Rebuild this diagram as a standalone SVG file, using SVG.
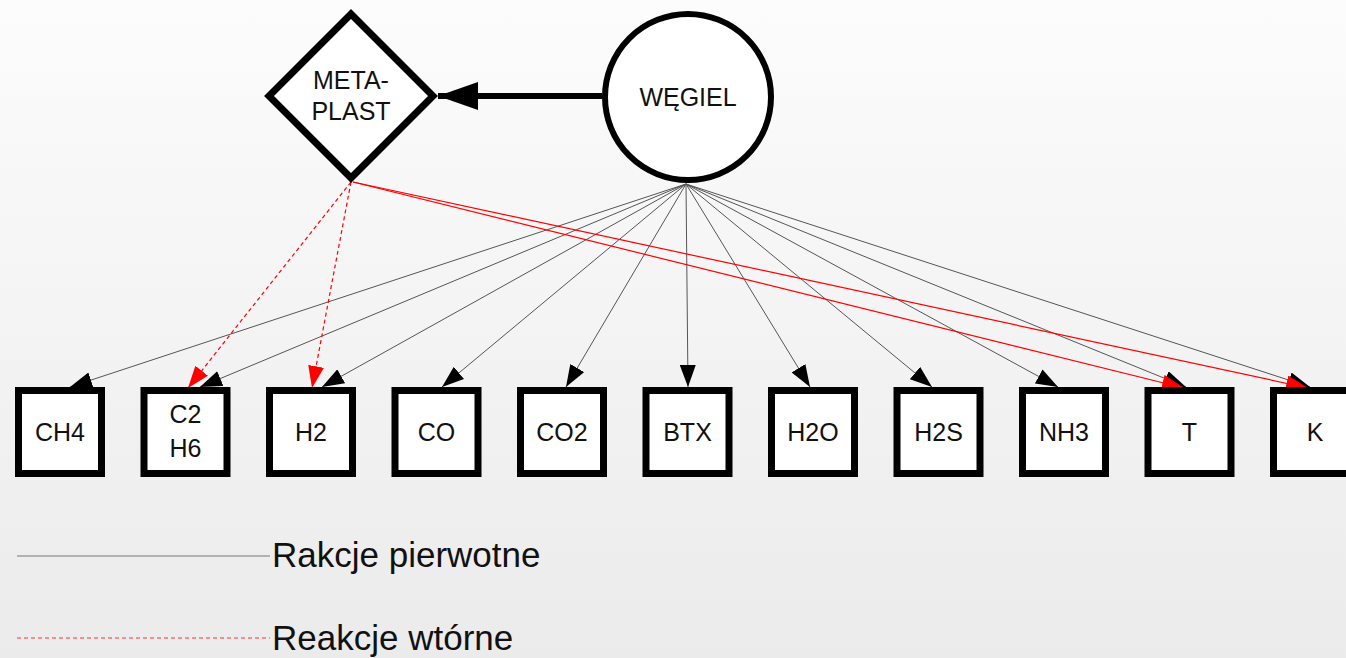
<svg xmlns="http://www.w3.org/2000/svg" width="1346" height="658" viewBox="0 0 1346 658">
  <defs>
    <linearGradient id="bg" x1="0" y1="0" x2="0" y2="1">
      <stop offset="0" stop-color="#fcfcfc"/>
      <stop offset="1" stop-color="#ebebeb"/>
    </linearGradient>
    <marker id="arrowBlack" viewBox="0 0 22 16" refX="22" refY="8" markerWidth="22" markerHeight="16" markerUnits="userSpaceOnUse" orient="auto">
      <path d="M0,0 L22,8 L0,16 Z" fill="#000"/>
    </marker>
    <marker id="arrowRed" viewBox="0 0 22 16" refX="22" refY="8" markerWidth="22" markerHeight="16" markerUnits="userSpaceOnUse" orient="auto">
      <path d="M0,0 L22,8 L0,16 Z" fill="#ff0000"/>
    </marker>
    <marker id="arrowBig" viewBox="0 0 40 28" refX="40" refY="14" markerWidth="40" markerHeight="28" markerUnits="userSpaceOnUse" orient="auto">
      <path d="M0,0 L40,14 L0,28 Z" fill="#000"/>
    </marker>
  </defs>
  <style>
    .box { fill: #fff; stroke: #000; stroke-width: 7; }
    .shape { fill: #fff; stroke: #000; }
    .lbl { font-family: "Liberation Sans", Arial, sans-serif; font-size: 25px; fill: #111; text-anchor: middle; }
    .legend { font-family: "Liberation Sans", Arial, sans-serif; font-size: 35px; fill: #111; }
    .primary { stroke: #555; stroke-width: 1; fill: none; marker-end: url(#arrowBlack); }
    .secondary { stroke: #ff0000; stroke-width: 1.2; fill: none; marker-end: url(#arrowRed); }
    .dashed { stroke-dasharray: 4 3; }
  </style>

  <rect x="0" y="0" width="1346" height="658" fill="url(#bg)"/>

  <!-- connectors -->
  <g id="connectors">
    <line x1="602" y1="96" x2="438" y2="96" stroke="#000" stroke-width="6" marker-end="url(#arrowBig)"/>
    <line class="primary" x1="686" y1="184" x2="70" y2="387"/>
    <line class="primary" x1="686" y1="184" x2="200" y2="387"/>
    <line class="primary" x1="686" y1="184" x2="322" y2="387"/>
    <line class="primary" x1="686" y1="184" x2="442" y2="387"/>
    <line class="primary" x1="686" y1="184" x2="566" y2="387"/>
    <line class="primary" x1="686" y1="184" x2="688" y2="387"/>
    <line class="primary" x1="686" y1="184" x2="810" y2="387"/>
    <line class="primary" x1="686" y1="184" x2="932" y2="387"/>
    <line class="primary" x1="686" y1="184" x2="1058" y2="387"/>
    <line class="primary" x1="686" y1="184" x2="1186" y2="387"/>
    <line class="primary" x1="686" y1="184" x2="1310" y2="387"/>
    <line class="secondary dashed" x1="351" y1="182" x2="188" y2="388"/>
    <line class="secondary dashed" x1="351" y1="182" x2="312" y2="388"/>
    <line class="secondary" x1="353" y1="182" x2="1184" y2="388"/>
    <line class="secondary" x1="353" y1="182" x2="1308" y2="388"/>
  </g>

  <g id="metaplast">
    <polygon class="shape" stroke-width="7" points="351,14 433,96 351,178 269,96"/>
    <text class="lbl" x="351" y="89">META-</text>
    <text class="lbl" x="351" y="120">PLAST</text>
  </g>

  <g id="wegiel">
    <circle class="shape" stroke-width="6" cx="688" cy="97" r="83"/>
    <text class="lbl" x="688" y="106">WĘGIEL</text>
  </g>

  <g id="ch4">
    <rect class="box" x="18.5" y="390.5" width="83" height="83"/>
    <text class="lbl" x="60" y="441">CH4</text>
  </g>
  <g id="c2h6">
    <rect class="box" x="144" y="390.5" width="83" height="83"/>
    <text class="lbl" x="185.5" y="423">C2</text>
    <text class="lbl" x="185.5" y="457">H6</text>
  </g>
  <g id="h2">
    <rect class="box" x="269.5" y="390.5" width="83" height="83"/>
    <text class="lbl" x="311" y="441">H2</text>
  </g>
  <g id="co">
    <rect class="box" x="395" y="390.5" width="83" height="83"/>
    <text class="lbl" x="436.5" y="441">CO</text>
  </g>
  <g id="co2">
    <rect class="box" x="520.5" y="390.5" width="83" height="83"/>
    <text class="lbl" x="562" y="441">CO2</text>
  </g>
  <g id="btx">
    <rect class="box" x="646" y="390.5" width="83" height="83"/>
    <text class="lbl" x="687.5" y="441">BTX</text>
  </g>
  <g id="h2o">
    <rect class="box" x="771.5" y="390.5" width="83" height="83"/>
    <text class="lbl" x="813" y="441">H2O</text>
  </g>
  <g id="h2s">
    <rect class="box" x="897" y="390.5" width="83" height="83"/>
    <text class="lbl" x="938.5" y="441">H2S</text>
  </g>
  <g id="nh3">
    <rect class="box" x="1022.5" y="390.5" width="83" height="83"/>
    <text class="lbl" x="1064" y="441">NH3</text>
  </g>
  <g id="t">
    <rect class="box" x="1148" y="390.5" width="83" height="83"/>
    <text class="lbl" x="1189.5" y="441">T</text>
  </g>
  <g id="k">
    <rect class="box" x="1273.5" y="390.5" width="83" height="83"/>
    <text class="lbl" x="1315" y="441">K</text>
  </g>

  <!-- legend -->
  <g id="legend">
    <line x1="17" y1="556" x2="270" y2="556" stroke="#777" stroke-width="1.2"/>
    <text class="legend" x="272" y="567">Rakcje pierwotne</text>
    <line x1="17" y1="638" x2="270" y2="638" stroke="#ff3333" stroke-width="1.2" stroke-dasharray="4 3"/>
    <text class="legend" x="272" y="650">Reakcje wtórne</text>
  </g>
</svg>
